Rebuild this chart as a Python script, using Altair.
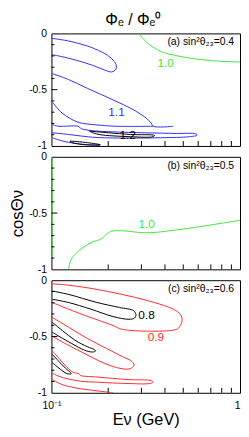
import altair as alt
import pandas as pd

FONT = "Liberation Sans"
W, H = 191, 114
BLUE = "#3030ff"
GREEN = "#3ce83c"
RED = "#ff2b2b"
BLACK = "#000000"

# contour readings: (log10 of E in GeV, cos theta)
# panel (a) sin^2 theta23 = 0.4
A_GREEN = [(-0.537, 0.0), (-0.520, -0.035), (-0.495, -0.079), (-0.461, -0.123),
           (-0.411, -0.167), (-0.343, -0.196), (-0.242, -0.225), (-0.108, -0.247), (0.0, -0.254)]
A_BLUE1 = [(-1.000, -0.044), (-0.916, -0.065), (-0.815, -0.109), (-0.731, -0.167),
           (-0.680, -0.225), (-0.657, -0.278), (-0.658, -0.318), (-0.680, -0.342),
           (-0.714, -0.328), (-0.781, -0.284), (-0.865, -0.240), (-0.949, -0.205), (-1.000, -0.188)]
A_BLUE2A = [(-0.996, -0.357), (-0.909, -0.410), (-0.808, -0.489), (-0.673, -0.591),
            (-0.572, -0.673), (-0.505, -0.743), (-0.471, -0.796), (-0.461, -0.825), (-0.354, -0.825)]
A_BLUE2B = [(-0.993, -0.614), (-0.943, -0.708), (-0.859, -0.789), (-0.758, -0.813),
            (-0.657, -0.825), (-0.461, -0.825)]
A_BLUE3 = [(-0.996, -0.811), (-0.960, -0.825), (-0.859, -0.825), (-0.842, -0.846),
           (-0.791, -0.863), (-0.673, -0.875), (-0.505, -0.883), (-0.337, -0.889),
           (-0.236, -0.892), (-0.227, -0.904), (-0.269, -0.918), (-0.421, -0.927),
           (-0.589, -0.930), (-0.758, -0.925), (-0.842, -0.912), (-0.909, -0.898), (-0.996, -0.883)]
A_BLUE4 = [(-0.996, -0.927), (-0.943, -0.956), (-0.875, -0.977), (-0.808, -0.989), (-0.742, -0.997)]
A_BLACK1 = [(-0.798, -0.868), (-0.697, -0.883), (-0.579, -0.898), (-0.453, -0.907),
            (-0.461, -0.918), (-0.579, -0.918), (-0.747, -0.898), (-0.789, -0.877), (-0.798, -0.868)]
A_BLACK2 = [(-0.901, -0.956), (-0.808, -0.971), (-0.741, -0.989), (-0.842, -0.986),
            (-0.901, -0.962), (-0.901, -0.956)]

# panel (b) sin^2 theta23 = 0.5
B_GREEN = [(-0.908, -0.997), (-0.899, -0.923), (-0.874, -0.865), (-0.832, -0.805),
           (-0.781, -0.755), (-0.739, -0.732), (-0.697, -0.673), (-0.672, -0.658),
           (-0.613, -0.658), (-0.529, -0.673), (-0.461, -0.673), (-0.377, -0.658),
           (-0.242, -0.628), (-0.074, -0.584), (0.0, -0.564)]
B_GREEN_EDGE = [(-0.997, 0.0), (-0.997, -0.912)]

# panel (c) sin^2 theta23 = 0.6
C_RED1 = [(-0.996, -0.032), (-0.909, -0.044), (-0.758, -0.082), (-0.589, -0.140),
          (-0.455, -0.198), (-0.354, -0.257), (-0.315, -0.306), (-0.307, -0.358),
          (-0.320, -0.411), (-0.337, -0.437), (-0.623, -0.437), (-0.673, -0.402),
          (-0.842, -0.301), (-0.996, -0.198)]
C_RED2 = [(-0.996, -0.330), (-0.909, -0.417), (-0.808, -0.519), (-0.707, -0.607),
          (-0.623, -0.679), (-0.572, -0.723), (-0.562, -0.752), (-0.576, -0.781),
          (-0.606, -0.790), (-0.673, -0.767), (-0.758, -0.708), (-0.842, -0.636),
          (-0.926, -0.563), (-0.996, -0.498)]
C_RED3 = [(-0.996, -0.627), (-0.960, -0.694), (-0.918, -0.773), (-0.884, -0.819),
          (-0.855, -0.830), (-0.848, -0.845), (-0.758, -0.860), (-0.589, -0.883),
          (-0.471, -0.892), (-0.461, -0.906), (-0.480, -0.918), (-0.589, -0.918),
          (-0.758, -0.906), (-0.842, -0.898), (-0.909, -0.878), (-0.960, -0.854), (-0.996, -0.825)]
C_RED4 = [(-0.996, -0.883), (-0.943, -0.927), (-0.875, -0.956), (-0.758, -0.983), (-0.672, -1.0)]
C_BLACK1 = [(-0.996, -0.096), (-0.909, -0.126), (-0.758, -0.198), (-0.640, -0.242),
            (-0.564, -0.271), (-0.552, -0.306), (-0.559, -0.336), (-0.589, -0.347),
            (-0.673, -0.323), (-0.791, -0.257), (-0.909, -0.198), (-0.996, -0.169)]
C_BLACK2 = [(-0.996, -0.373), (-0.943, -0.446), (-0.875, -0.533), (-0.808, -0.592),
            (-0.774, -0.615), (-0.766, -0.629), (-0.783, -0.638), (-0.825, -0.621),
            (-0.892, -0.563), (-0.960, -0.498), (-0.996, -0.461)]
C_BLACK3 = [(-0.996, -0.656), (-0.960, -0.723), (-0.926, -0.781), (-0.895, -0.830),
            (-0.918, -0.830), (-0.960, -0.781), (-0.996, -0.732)]

# contour labels: (text, log10 E, cos, colour)
A_LABELS = [("1.0", -0.394, -0.263, GREEN), ("1.1", -0.655, -0.702, BLUE), ("1.2", -0.596, -0.904, BLACK)]
B_LABELS = [("1.0", -0.495, -0.600, GREEN)]
C_LABELS = [("0.8", -0.496, -0.306, BLACK), ("0.9", -0.446, -0.504, RED)]

TAGS = ["(a) sin²θ₂₃=0.4", "(b) sin²θ₂₃=0.5", "(c) sin²θ₂₃=0.6"]
TITLE = "Φₑ / Φₑ⁰"

X_LABELS = [0.1, 1]
X_MINOR = [0.2, 0.3, 0.4, 0.5, 0.6, 0.7, 0.8, 0.9]
Y_LABELS = [0, -0.5, -1]
Y_MINOR = [-0.1, -0.2, -0.3, -0.4, -0.6, -0.7, -0.8, -0.9]
Y_MAJOR = [-0.5]


def contour_df(segs):
    rows = []
    for sid, (pts, col) in enumerate(segs):
        for i, (lx, c) in enumerate(pts):
            rows.append({"seg": sid, "i": i, "E": 10 ** lx, "cos": c, "col": col})
    return pd.DataFrame(rows)


def label_df(labels):
    return pd.DataFrame([{"t": t, "E": 10 ** lx, "cos": c, "col": col} for t, lx, c, col in labels])


def xenc(show):
    if show:
        ax = alt.Axis(values=X_LABELS, labelExpr="datum.value < 0.5 ? '10⁻¹' : '1'",
                      labelAlign={"condition": {"test": "datum.value > 0.5", "value": "right"},
                                  "value": "center"},
                      ticks=False, domain=False, grid=False, labelFlush=False,
                      labelPadding=8, labelFontSize=10.5, labelFont=FONT, labelColor="black",
                      title="Eν (GeV)", titleFont=FONT, titleFontSize=16.5,
                      titleFontWeight="normal", titlePadding=1, titleColor="black")
    else:
        ax = None
    return alt.X("E:Q", scale=alt.Scale(type="log", domain=[0.1, 1]), axis=ax)


def yenc(title):
    kw = dict(values=Y_LABELS,
              labelExpr="datum.value == 0 ? '0' : (datum.value < -0.75 ? '-1' : '-0.5')",
              ticks=False, domain=False, grid=False, labelPadding=5, labelFontSize=10.5,
              labelFont=FONT, labelColor="black")
    if title:
        kw.update(title=title, titleFont=FONT, titleFontSize=17, titleFontWeight="normal",
                  titlePadding=2, titleColor="black")
    else:
        kw["title"] = None
    return alt.Y("cos:Q", scale=alt.Scale(domain=[-1, 0], nice=False, zero=False),
                 axis=alt.Axis(**kw))


def panel(segs, labels, tag, show_x, ytitle, head=None):
    lines = alt.Chart(contour_df(segs)).mark_line(
        strokeWidth=1.0, interpolate="catmull-rom", clip=True
    ).encode(x=xenc(show_x), y=yenc(ytitle), detail="seg:N", order="i:Q",
             color=alt.Color("col:N", scale=None))
    texts = alt.Chart(label_df(labels)).mark_text(font=FONT, fontSize=12).encode(
        x=xenc(show_x), y=yenc(ytitle), text="t:N", color=alt.Color("col:N", scale=None))
    tagc = alt.Chart(pd.DataFrame({"t": [tag]})).mark_text(
        font=FONT, fontSize=10.5, align="right", baseline="middle", color="black"
    ).encode(x=alt.value(W - 6), y=alt.value(9), text="t:N")
    xt = alt.Chart(pd.DataFrame({"E": X_MINOR})).mark_rule(color="black", strokeWidth=1).encode(
        x=xenc(show_x), y=alt.value(H), y2=alt.value(H - 5))
    ytm = alt.Chart(pd.DataFrame({"cos": Y_MINOR})).mark_rule(color="black", strokeWidth=1).encode(
        y=yenc(ytitle), x=alt.value(0), x2=alt.value(3))
    ytM = alt.Chart(pd.DataFrame({"cos": Y_MAJOR})).mark_rule(color="black", strokeWidth=1).encode(
        y=yenc(ytitle), x=alt.value(0), x2=alt.value(6))
    layers = [lines, texts, tagc, xt, ytm, ytM]
    if head:
        layers.append(alt.Chart(pd.DataFrame({"t": [head]})).mark_text(
            font=FONT, fontSize=16, align="center", baseline="alphabetic", color="black"
        ).encode(x=alt.value(83), y=alt.value(-9), text="t:N"))
    return alt.layer(*layers).properties(width=W, height=H)


pa = panel([(A_GREEN, GREEN), (A_BLUE1, BLUE), (A_BLUE2A, BLUE), (A_BLUE2B, BLUE),
            (A_BLUE3, BLUE), (A_BLUE4, BLUE), (A_BLACK1, BLACK), (A_BLACK2, BLACK)],
           A_LABELS, TAGS[0], False, None, head=TITLE)
pb = panel([(B_GREEN, GREEN), (B_GREEN_EDGE, GREEN)], B_LABELS, TAGS[1], False, "cosΘν")
pc = panel([(C_RED1, RED), (C_RED2, RED), (C_RED3, RED), (C_RED4, RED),
            (C_BLACK1, BLACK), (C_BLACK2, BLACK), (C_BLACK3, BLACK)],
           C_LABELS, TAGS[2], True, None)

chart = alt.vconcat(pa, pb, pc, spacing=11, bounds="flush").properties(
    padding={"left": 0, "top": 0, "right": 0, "bottom": 0},
).configure_view(stroke="black", strokeWidth=1)

chart.save("out.html", embed_options={"renderer": "svg", "actions": False})
